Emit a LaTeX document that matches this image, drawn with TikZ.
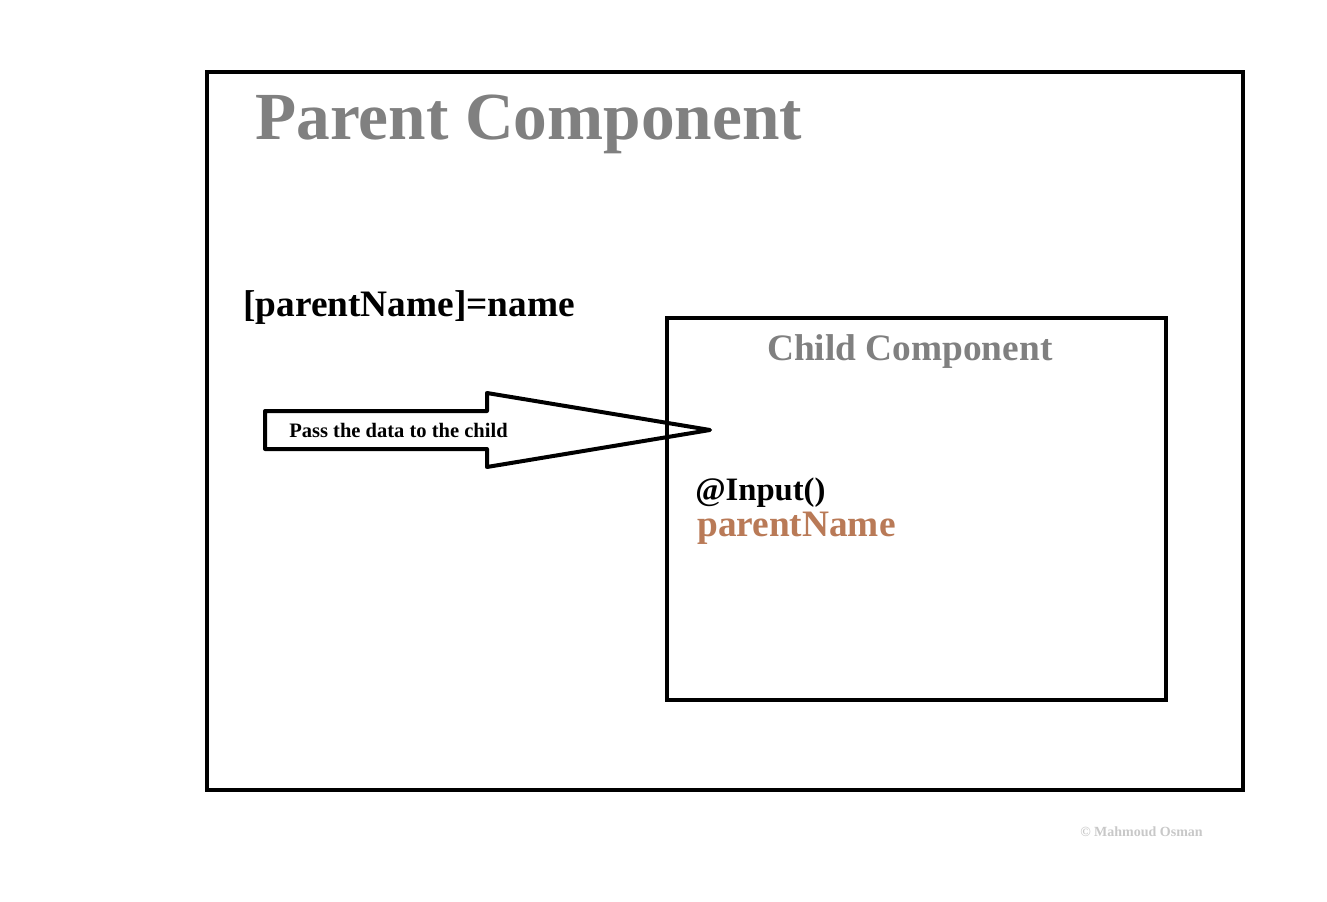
\documentclass[tikz,border=0pt]{standalone}
\usepackage{fontspec}
\setmainfont{Liberation Serif}
\definecolor{titlegray}{HTML}{808080}
\definecolor{propbrown}{HTML}{B97A57}
\definecolor{signgray}{HTML}{C8C8C8}
\tikzset{
  frame/.style={draw=black,line width=3pt},
  bigtitle/.style={anchor=base west,inner sep=0pt,text=titlegray,font=\bfseries\fontsize{50.5}{60}\selectfont},
  label/.style={anchor=base west,inner sep=0pt,font=\bfseries\fontsize{28}{34}\selectfont}
}
\begin{document}
\begin{tikzpicture}[x=0.75pt,y=-0.75pt]
\useasboundingbox (0,0) rectangle (1327,902);
\draw[frame] (207,72) rectangle (1243,790);
\draw[frame] (667,318) rectangle (1166,700);
\node[bigtitle] (parent) at (255,140) {Parent Component};
\node[label] (binding) at (243,316) {[parentName]=name};
\node[label,text=titlegray] (child) at (767,360) {Child Component};

\draw[line width=3pt,line join=round] (265,411) -- (487,411) -- (487,393) -- (710,430)
  -- (487,467) -- (487,449) -- (265,449) -- cycle;
\node[anchor=base west,inner sep=0pt,font=\bfseries\fontsize{15.4}{18}\selectfont] (pass) at (289,437) {Pass the data to the child};

\node[label,font=\bfseries\fontsize{24.5}{30}\selectfont] (input) at (695,500) {@Input()};
\node[label,text=propbrown] (prop) at (697,536) {parentName};
\node[anchor=base west,inner sep=0pt,text=signgray,font=\bfseries\fontsize{10.5}{12}\selectfont] (sign) at (1080,836) {© Mahmoud Osman};
\end{tikzpicture}
\end{document}
